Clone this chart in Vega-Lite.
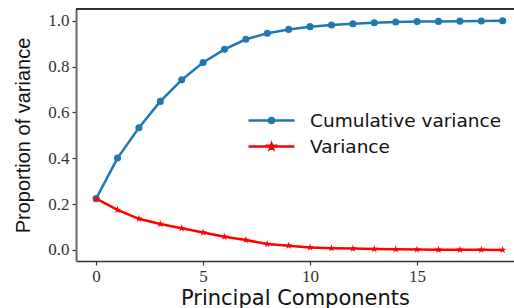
{
  "$schema": "https://vega.github.io/schema/vega-lite/v6.json",
  "width": 438,
  "height": 252,
  "autosize": {"type": "none"},
  "padding": {"left": 76, "top": 9, "right": 0, "bottom": 47},
  "background": "white",
  "config": {
    "view": {"stroke": null},
    "axis": {
      "grid": false,
      "labelFont": "Liberation Serif",
      "labelFontSize": 17,
      "labelColor": "#333",
      "tickSize": 4,
      "tickColor": "#333",
      "tickWidth": 1.2,
      "labelPadding": 3,
      "titleColor": "#111",
      "titleFontWeight": "normal"
    }
  },
  "data": {
    "values": [
      {"pc": 0, "series": "Cumulative variance", "v": 0.224},
      {"pc": 1, "series": "Cumulative variance", "v": 0.401},
      {"pc": 2, "series": "Cumulative variance", "v": 0.533},
      {"pc": 3, "series": "Cumulative variance", "v": 0.648},
      {"pc": 4, "series": "Cumulative variance", "v": 0.742},
      {"pc": 5, "series": "Cumulative variance", "v": 0.818},
      {"pc": 6, "series": "Cumulative variance", "v": 0.875},
      {"pc": 7, "series": "Cumulative variance", "v": 0.919},
      {"pc": 8, "series": "Cumulative variance", "v": 0.945},
      {"pc": 9, "series": "Cumulative variance", "v": 0.962},
      {"pc": 10, "series": "Cumulative variance", "v": 0.974},
      {"pc": 11, "series": "Cumulative variance", "v": 0.981},
      {"pc": 12, "series": "Cumulative variance", "v": 0.987},
      {"pc": 13, "series": "Cumulative variance", "v": 0.991},
      {"pc": 14, "series": "Cumulative variance", "v": 0.994},
      {"pc": 15, "series": "Cumulative variance", "v": 0.996},
      {"pc": 16, "series": "Cumulative variance", "v": 0.997},
      {"pc": 17, "series": "Cumulative variance", "v": 0.998},
      {"pc": 18, "series": "Cumulative variance", "v": 0.999},
      {"pc": 19, "series": "Cumulative variance", "v": 1.0},
      {"pc": 0, "series": "Variance", "v": 0.224},
      {"pc": 1, "series": "Variance", "v": 0.175},
      {"pc": 2, "series": "Variance", "v": 0.136},
      {"pc": 3, "series": "Variance", "v": 0.113},
      {"pc": 4, "series": "Variance", "v": 0.095},
      {"pc": 5, "series": "Variance", "v": 0.076},
      {"pc": 6, "series": "Variance", "v": 0.058},
      {"pc": 7, "series": "Variance", "v": 0.044},
      {"pc": 8, "series": "Variance", "v": 0.026},
      {"pc": 9, "series": "Variance", "v": 0.019},
      {"pc": 10, "series": "Variance", "v": 0.011},
      {"pc": 11, "series": "Variance", "v": 0.008},
      {"pc": 12, "series": "Variance", "v": 0.006},
      {"pc": 13, "series": "Variance", "v": 0.004},
      {"pc": 14, "series": "Variance", "v": 0.003},
      {"pc": 15, "series": "Variance", "v": 0.002},
      {"pc": 16, "series": "Variance", "v": 0.0015},
      {"pc": 17, "series": "Variance", "v": 0.001},
      {"pc": 18, "series": "Variance", "v": 0.0008},
      {"pc": 19, "series": "Variance", "v": 0.0005}
    ]
  },
  "encoding": {
    "x": {
      "field": "pc", "type": "quantitative",
      "scale": {"domain": [-0.94, 19.53], "nice": false, "zero": false},
      "axis": {
        "values": [0, 5, 10, 15], "title": "Principal Components",
        "titleFont": "DejaVu Sans", "titleFontSize": 21, "titlePadding": 3,
        "domainColor": "#333", "domainWidth": 1.5
      }
    },
    "y": {
      "field": "v", "type": "quantitative",
      "scale": {"domain": [-0.048, 1.051], "nice": false, "zero": false},
      "axis": {
        "values": [0, 0.2, 0.4, 0.6, 0.8, 1.0], "format": ".1f",
        "title": "Proportion of variance",
        "titleFont": "Liberation Sans", "titleFontSize": 20, "titlePadding": 14,
        "domainColor": "#666", "domainWidth": 2
      }
    },
    "color": {
      "field": "series", "type": "nominal",
      "scale": {"domain": ["Cumulative variance", "Variance"], "range": ["#1f77b4", "#ff0000"]},
      "legend": {
        "orient": "none", "legendX": 184, "legendY": 100, "title": null,
        "padding": 0, "symbolSize": 400, "labelOffset": 27, "rowPadding": 5,
        "labelFont": "DejaVu Sans", "labelFontSize": 18.5, "labelColor": "#111",
        "labelLimit": 400,
        "symbolStrokeWidth": 2.5,
        "encoding": {
          "symbols": {
            "shape": {"value": {"expr": "datum.value === 'Variance' ? 'M-2.3,0H2.3M0,-0.25L0.056,-0.077L0.238,-0.077L0.091,0.03L0.147,0.202L0,0.096L-0.147,0.202L-0.091,0.03L-0.238,-0.077L-0.056,-0.077Z' : 'M-2.3,0H2.3M0.25,0A0.25,0.25,0,1,1,-0.25,0A0.25,0.25,0,1,1,0.25,0Z'"}},
            "fill": {"value": {"expr": "scale('color', datum.value)"}},
            "stroke": {"value": {"expr": "scale('color', datum.value)"}},
            "strokeWidth": {"value": 2.5},
            "opacity": {"value": 1}
          }
        }
      }
    }
  },
  "layer": [
    {
      "mark": {"type": "rule", "color": "#333", "strokeWidth": 1.5},
      "encoding": {"y": {"datum": 1.051}, "x": null, "color": null}
    },
    {
      "transform": [{"filter": "datum.series === 'Cumulative variance'"}],
      "mark": {"type": "line", "strokeWidth": 2.5}
    },
    {
      "transform": [{"filter": "datum.series === 'Cumulative variance'"}],
      "mark": {"type": "point", "filled": true, "opacity": 1, "size": 50, "shape": "circle"}
    },
    {
      "transform": [{"filter": "datum.series === 'Variance'"}],
      "mark": {"type": "line", "strokeWidth": 2.5}
    },
    {
      "transform": [{"filter": "datum.series === 'Variance'"}],
      "mark": {"type": "point", "filled": true, "opacity": 1, "size": 64, "shape": "M0,-1L0.225,-0.309L0.951,-0.309L0.363,0.118L0.588,0.809L0,0.382L-0.588,0.809L-0.363,0.118L-0.951,-0.309L-0.225,-0.309Z"}
    }
  ]
}
